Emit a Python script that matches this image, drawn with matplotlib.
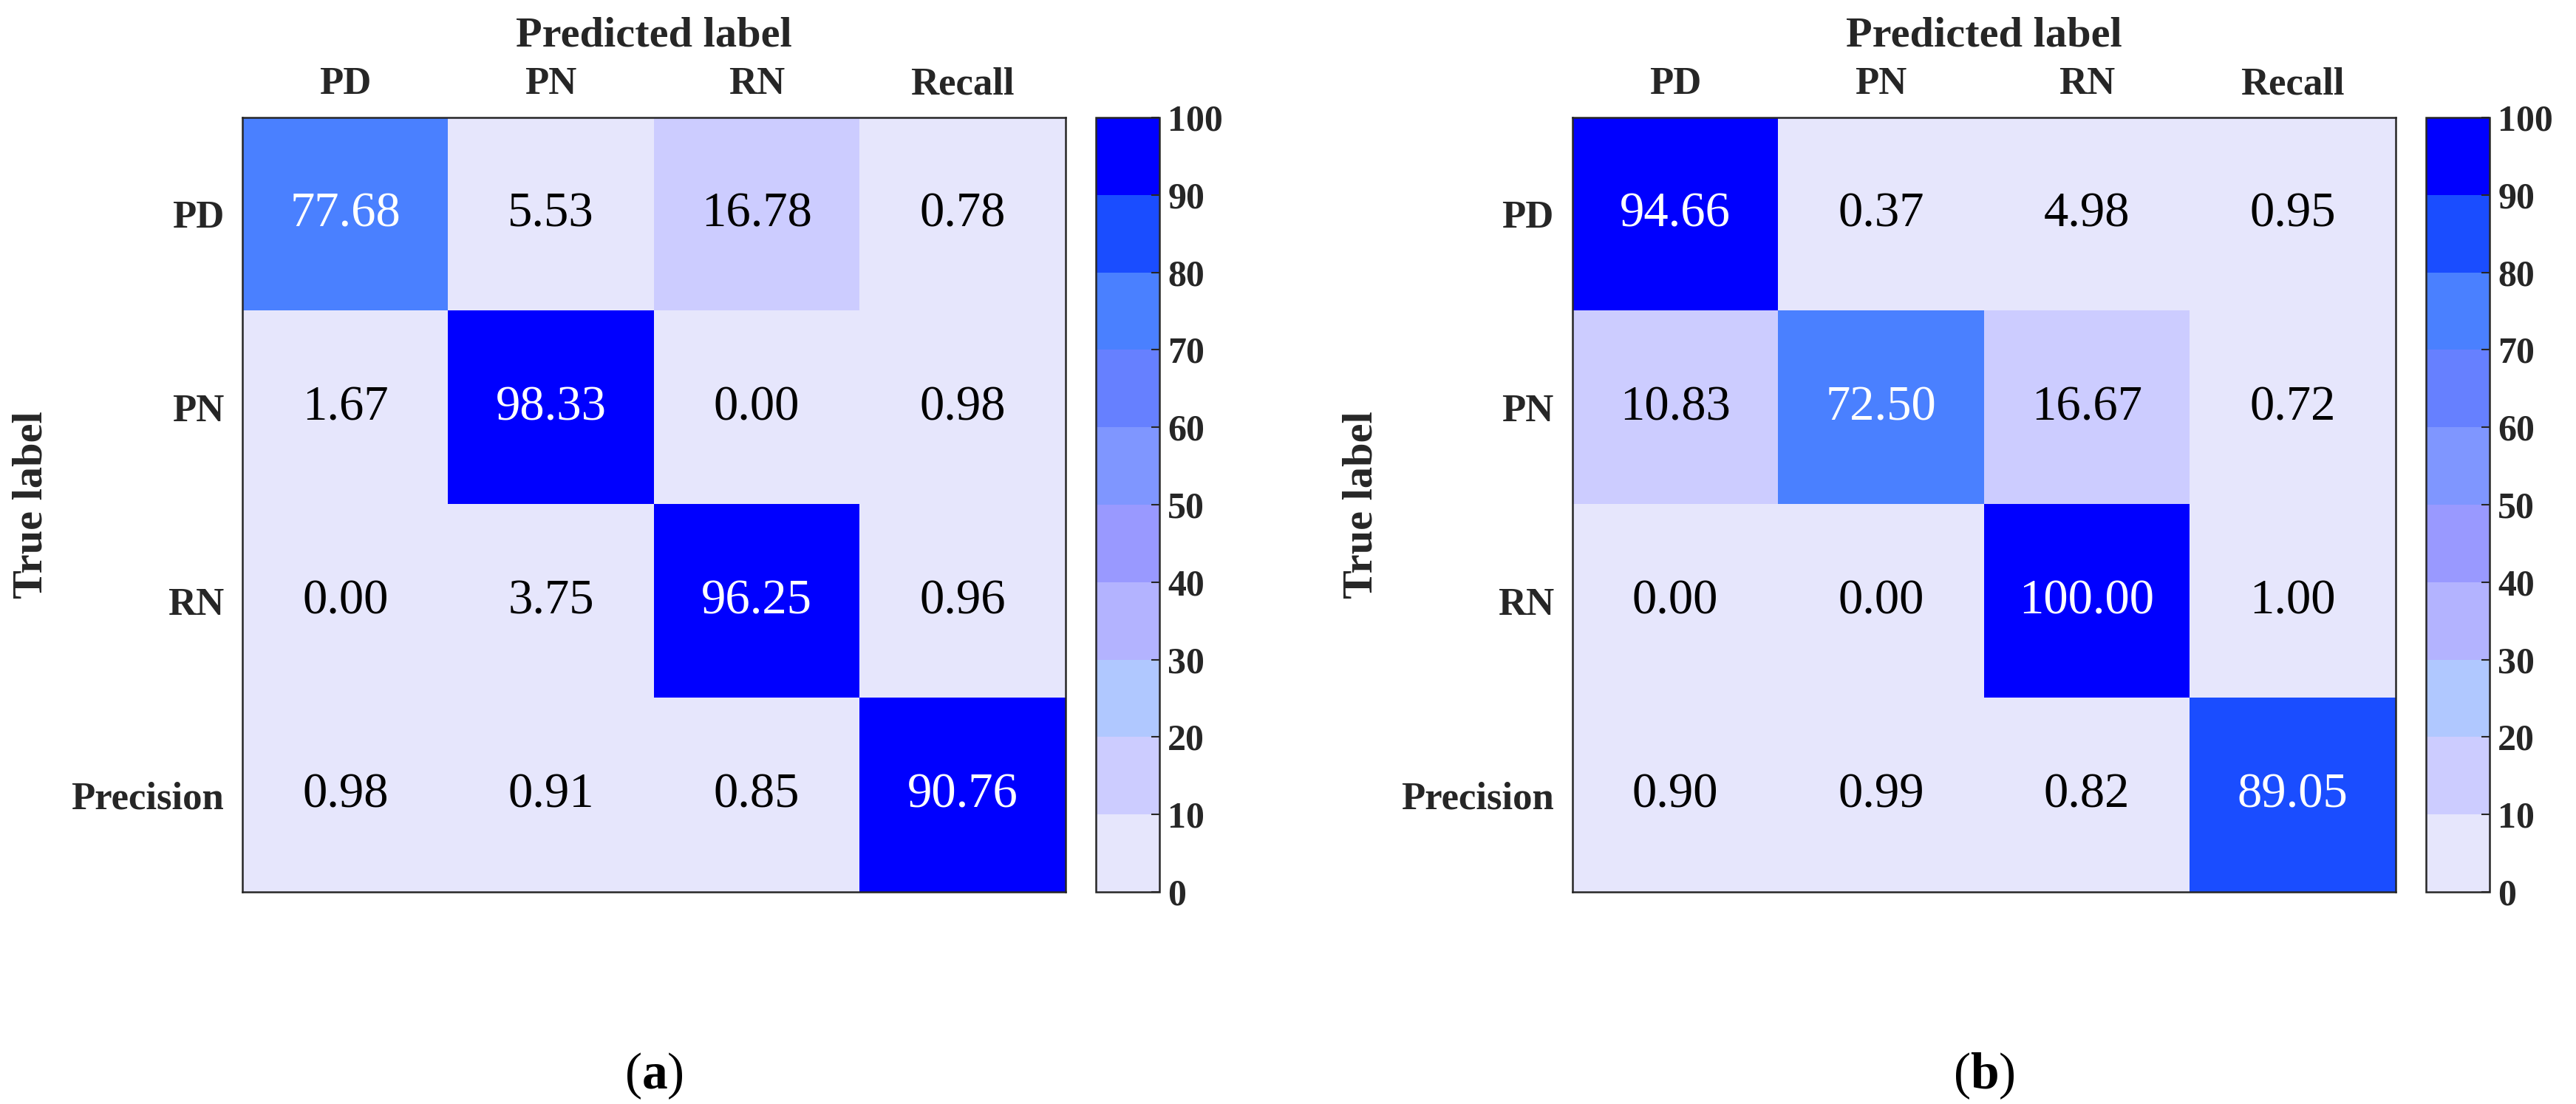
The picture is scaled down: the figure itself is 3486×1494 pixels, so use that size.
import numpy as np
import matplotlib
matplotlib.use("Agg")
import matplotlib.pyplot as plt
from matplotlib.colors import ListedColormap, BoundaryNorm

plt.rcParams["font.family"] = ["Liberation Serif", "DejaVu Serif"]
plt.rcParams["mathtext.fontset"] = "custom"
plt.rcParams["mathtext.rm"] = "Liberation Serif"
plt.rcParams["mathtext.bf"] = "Liberation Serif:bold"

# class names (rows / columns)
row_labels = ["PD", "PN", "RN", "Precision"]
col_labels = ["PD", "PN", "RN", "Recall"]

# confusion matrix (a)
cm_a = [[77.68, 5.53, 16.78, 0.78],
        [1.67, 98.33, 0.00, 0.98],
        [0.00, 3.75, 96.25, 0.96],
        [0.98, 0.91, 0.85, 90.76]]

# confusion matrix (b)
cm_b = [[94.66, 0.37, 4.98, 0.95],
        [10.83, 72.50, 16.67, 0.72],
        [0.00, 0.00, 100.00, 1.00],
        [0.90, 0.99, 0.82, 89.05]]

panel_tags = ["a", "b"]
bounds = [0, 10, 20, 30, 40, 50, 60, 70, 80, 90, 100]

colors = ["#E6E6FC", "#CCCCFF", "#B0C8FF", "#B3B3FF", "#9999FF",
          "#7F96FF", "#6680FF", "#4A80FF", "#1A4DFF", "#0000FF"]
cmap = ListedColormap(colors)
norm = BoundaryNorm(bounds, cmap.N)

dark = "#262626"
fig = plt.figure(figsize=(34.86, 14.94), dpi=100)

ax_lefts = [0.0941, 0.6104]
cb_lefts = [0.4254, 0.9418]
bottom, height = 0.1921, 0.7015

for k, data in enumerate([cm_a, cm_b]):
    m = np.array(data)
    ax = fig.add_axes([ax_lefts[k], bottom, 0.3195, height])
    im = ax.imshow(m, cmap=cmap, norm=norm, aspect="auto", interpolation="nearest")
    for i in range(m.shape[0]):
        for j in range(m.shape[1]):
            v = m[i, j]
            ax.text(j, i, f"{v:.2f}", ha="center", va="center", fontsize=48,
                    color="white" if v > 50 else "black")
    ax.set_xticks(range(len(col_labels)))
    ax.set_yticks(range(len(row_labels)))
    ax.set_xticklabels(col_labels, fontsize=38, fontweight="bold", color=dark)
    ax.set_yticklabels(row_labels, fontsize=38, fontweight="bold", color=dark)
    ax.xaxis.tick_top()
    ax.xaxis.set_label_position("top")
    ax.tick_params(axis="x", length=0, pad=15)
    ax.tick_params(axis="y", length=0, pad=18)
    ax.set_xlabel("Predicted label", fontsize=42, fontweight="bold", color=dark, labelpad=20)
    ax.set_ylabel("True label", fontsize=42, fontweight="bold", color=dark, labelpad=20)
    for s in ax.spines.values():
        s.set_linewidth(1.8)
        s.set_color(dark)

    cax = fig.add_axes([cb_lefts[k], bottom, 0.0247, height])
    cb = fig.colorbar(im, cax=cax, ticks=bounds)
    cb.outline.set_linewidth(1.8)
    cb.outline.set_edgecolor(dark)
    cax.tick_params(direction="in", length=8, width=1.5, color=dark, pad=8)
    for t in cax.get_yticklabels():
        t.set_fontsize(36)
        t.set_fontweight("bold")
        t.set_color(dark)

    fig.text(ax_lefts[k] + 0.3195 / 2, 0.0255, rf"($\mathbf{{{panel_tags[k]}}}$)",
             ha="center", va="center", fontsize=50)

fig.savefig("out.png", dpi=100)
